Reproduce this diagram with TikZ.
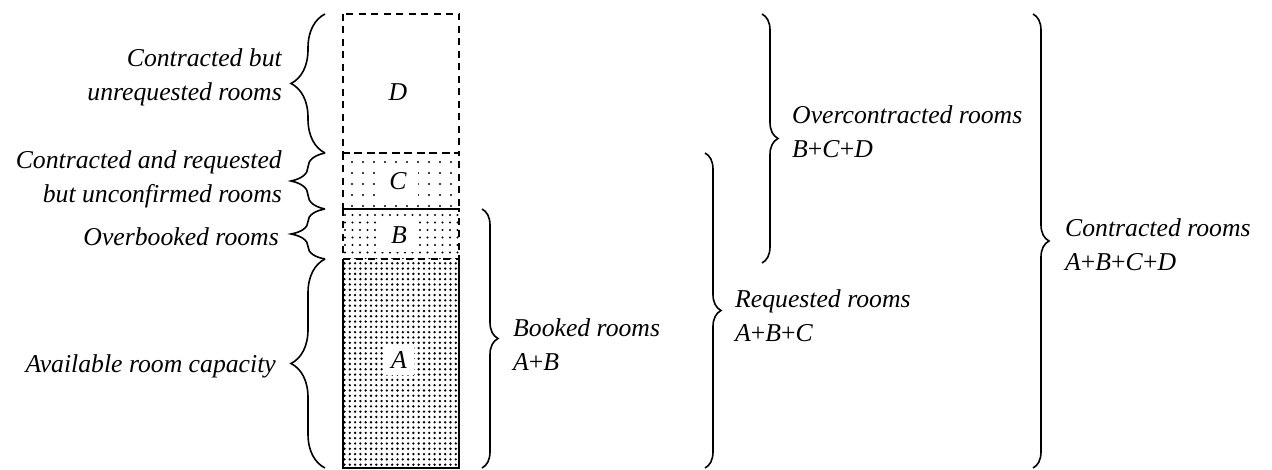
\documentclass[tikz,border=0pt]{standalone}
\usepackage{fontspec}
\setmainfont{Liberation Serif}
\usetikzlibrary{positioning, calc, patterns.meta, decorations.pathreplacing}
\newcommand{\roomfont}{\fontsize{25.7}{34}\selectfont\itshape}
\tikzset{
	seg/.style     ={rectangle, minimum width=116pt, inner sep=0pt, outer sep=0pt},
	segline/.style ={line width=1.7pt, dash pattern=on 7pt off 5.5pt},
	segsolid/.style={line width=1.9pt},
	letter/.style  ={rectangle, fill=white, inner xsep=11pt, inner ysep=9pt, font=\roomfont},
	lblL/.style    ={anchor=east, align=right, inner sep=0pt, font=\roomfont},
	lblR/.style    ={anchor=west, align=left, inner sep=0pt, font=\roomfont},
	% braces: tip on the left / on the right
	braceL/.style  ={decorate, decoration={brace, amplitude=34pt}, line width=1.6pt},
	braceR/.style  ={decorate, decoration={brace, amplitude=16pt}, line width=1.6pt},
}

\begin{document}
\begin{tikzpicture}[x=1pt, y=-1pt]
	\useasboundingbox (0,0) rectangle (1272,470);
	% room bar, top to bottom
	\node[seg, minimum height=139pt, anchor=north west] (segD) at (343,14) {};
	\node[seg, minimum height=56pt, below=0pt of segD, pattern={Dots[distance=11pt, radius=1.1pt]}] (segC) {};
	\node[seg, minimum height=50pt, below=0pt of segC, pattern={Dots[distance=7.5pt, radius=1.1pt]}] (segB) {};
	\node[seg, minimum height=209pt, below=0pt of segB, pattern={Dots[distance=5.3pt, radius=1.3pt]}] (segA) {};
	\draw[segline] (segD.north west) rectangle (segD.south east);
	\draw[segline] (segC.north west) rectangle (segC.south east);
	\draw[segline] (segB.north west) rectangle (segB.south east);
	\draw[segsolid] (segA.north west) -- (segA.south west) -- (segA.south east) -- (segA.north east);
	\node[letter] (letD) at (398,92) {D};
	\node[letter] (letC) at (398,181) {C};
	\node[letter] (letB) at (399,235) {B};
	\node[letter, inner xsep=7pt, inner ysep=7pt] (letA) at (399,360) {A};
	% left braces
	\draw[braceL] ([xshift=-18pt]segD.south west) -- ([xshift=-18pt]segD.north west);
	\draw[braceL] ([xshift=-18pt]segC.south west) -- ([xshift=-18pt]segC.north west);
	\draw[braceL] ([xshift=-18pt]segB.south west) -- ([xshift=-18pt]segB.north west);
	\draw[braceL] ([xshift=-18pt]segA.south west) -- ([xshift=-18pt]segA.north west);
	\node[lblL] (txtD) at ([xshift=-61pt, yshift=6pt]segD.west) {Contracted but\\unrequested rooms};
	\node[lblL] (txtC) at ([xshift=-61pt, yshift=2pt]segC.west) {Contracted and requested\\but unconfirmed rooms};
	\node[lblL] (txtB) at ([xshift=-64pt, yshift=-3pt]segB.west) {Overbooked rooms};
	\node[lblL] (txtA) at ([xshift=-67pt, yshift=-3pt]segA.west) {Available room capacity};
	% right braces
	\draw[braceR] ([xshift=23pt]segB.north east) -- ([xshift=23pt]segA.south east);
	\draw[braceR] ([xshift=246pt]segC.north east) -- ([xshift=246pt]segA.south east);
	\draw[braceR] ([xshift=303pt]segD.north east) -- ([xshift=303pt, yshift=-4pt]segB.south east);
	\draw[braceR] ([xshift=574pt]segD.north east) -- ([xshift=574pt]segA.south east);
	\node[lblR] (txtBooked) at (513,345) {Booked rooms\\A\textup{+}B};
	\node[lblR] (txtReq) at (735,316) {Requested rooms\\A\textup{+}B\textup{+}C};
	\node[lblR] (txtOver) at (792,132) {Overcontracted rooms\\B\textup{+}C\textup{+}D};
	\node[lblR] (txtCon) at (1065,245) {Contracted rooms\\A\textup{+}B\textup{+}C\textup{+}D};
\end{tikzpicture}
\end{document}
